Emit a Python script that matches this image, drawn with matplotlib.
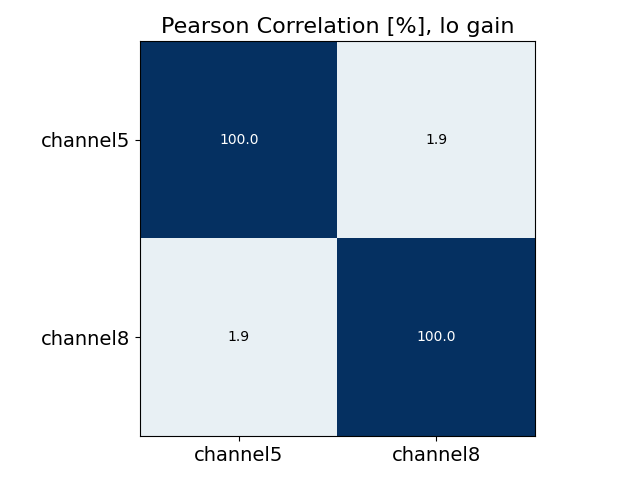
import numpy as np
import matplotlib
matplotlib.use("Agg")
import matplotlib.pyplot as plt

channels = ["channel5", "channel8"]
corr = np.array([
    [100.0, 1.9],
    [1.9, 100.0],
])

fig = plt.figure(figsize=(6.4, 4.8), dpi=100)
ax = fig.add_axes([140 / 640, 44 / 480, 395 / 640, 395 / 480])
ax.imshow(corr, cmap="RdBu", vmin=-112, vmax=100, aspect="auto")

for i in range(len(channels)):
    for j in range(len(channels)):
        v = corr[i, j]
        ax.text(j, i, f"{v:.1f}", ha="center", va="center",
                color="white" if v > 50 else "black", fontsize=10)

ax.set_xticks(range(len(channels)))
ax.set_xticklabels(channels, fontsize=14)
ax.set_yticks(range(len(channels)))
ax.set_yticklabels(channels, fontsize=14)
ax.set_title("Pearson Correlation [%], lo gain", fontsize=16)

fig.savefig("out.png", dpi=100)
